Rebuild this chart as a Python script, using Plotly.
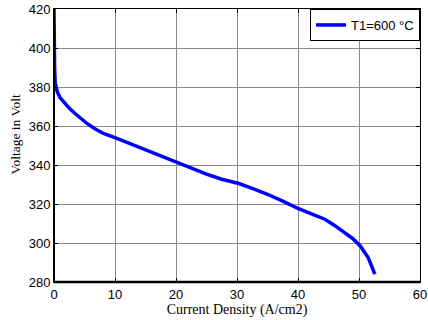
import plotly.graph_objects as go

# Polarization curve: current density (A/cm2) vs stack voltage (V)
current_density = [0, 0, 0.1, 0.2, 0.55, 1.0, 1.8, 2.6, 3.45, 4.4, 5.4, 6.7, 8.1,
                   10, 12.5, 15.2, 17.5, 20.2, 22.5, 25, 27.5, 30.3, 32.5, 35, 37.5,
                   40, 42.5, 44.4, 46, 47.7, 49, 50.2, 51.5, 52.6]
voltage = [420, 400, 390, 382, 377.5, 374.5, 371.5, 368.8, 366.4, 363.8, 361.3,
           358.6, 356.2, 354.0, 350.9, 347.8, 345, 341.6, 338.6, 335.3, 332.7, 330.5,
           328, 325, 321.5, 317.7, 314.6, 312.2, 309, 305.4, 302.2, 298.5, 292.5, 284]
series_name = "T1=600 °C"

x_ticks = [0, 10, 20, 30, 40, 50, 60]
y_ticks = [280, 300, 320, 340, 360, 380, 400, 420]

fig = go.Figure()
fig.add_trace(go.Scatter(
    x=current_density, y=voltage, mode="lines", name=series_name,
    line=dict(color="#0000ff", width=3.5),
))

axis_common = dict(
    showgrid=True, gridcolor="#8a8a8a", gridwidth=1,
    showline=True, linecolor="black", linewidth=1, mirror="allticks",
    ticks="inside", ticklen=4, tickcolor="black",
    tickfont=dict(family="Arial, Liberation Sans", size=13, color="black"),
    zeroline=False, automargin=False,
)

serif = "Liberation Serif, Times New Roman"

fig.update_xaxes(
    range=[0, 60], tickvals=x_ticks,
    title=dict(text="Current Density (A/cm2)", standoff=1,
               font=dict(family=serif, size=14, color="black")),
    **axis_common,
)
fig.update_yaxes(range=[280, 420], tickvals=y_ticks, **axis_common)

# y-axis label, placed slightly above the axis midpoint
fig.add_annotation(
    text="Voltage in Volt", textangle=-90, showarrow=False,
    xref="paper", yref="paper", x=0, y=0.54, xanchor="center", yanchor="middle",
    xshift=-38, font=dict(family=serif, size=13.5, color="black"),
)

# heavier left and bottom axis lines
fig.add_shape(type="line", xref="paper", yref="paper", x0=0, x1=1, y0=0, y1=0,
              line=dict(color="black", width=2.5))
fig.add_shape(type="line", xref="paper", yref="paper", x0=0, x1=0, y0=0, y1=1,
              line=dict(color="black", width=2))

fig.update_layout(
    width=428, height=320,
    margin=dict(l=54, r=8, t=9, b=38),
    paper_bgcolor="white", plot_bgcolor="white",
    showlegend=True,
    legend=dict(
        x=1, y=1, xanchor="right", yanchor="top",
        bgcolor="white", bordercolor="black", borderwidth=1,
        font=dict(family="Arial, Liberation Sans", size=13, color="black"),
        itemwidth=30, tracegroupgap=0,
    ),
)

fig.write_html("out.html")
